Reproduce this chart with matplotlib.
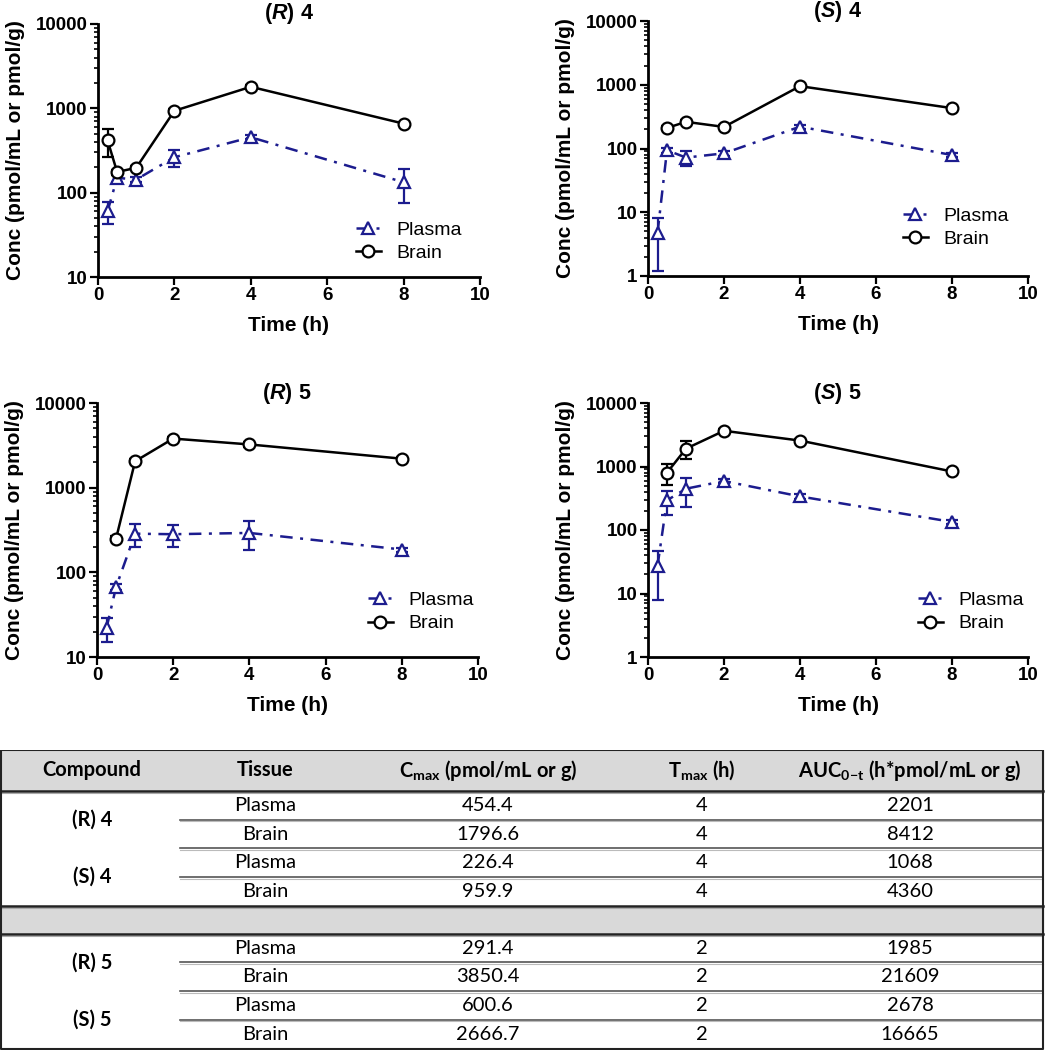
import matplotlib
matplotlib.use('Agg')
import matplotlib.pyplot as plt
from matplotlib.ticker import LogLocator, FuncFormatter, NullFormatter

plt.rcParams['font.family'] = ['Liberation Sans', 'DejaVu Sans']
plt.rcParams['mathtext.fontset'] = 'custom'
plt.rcParams['mathtext.rm'] = 'Liberation Sans'
plt.rcParams['mathtext.bf'] = 'Liberation Sans:bold'
plt.rcParams['mathtext.bfit'] = 'Liberation Sans:bold:italic'
plt.rcParams['mathtext.sf'] = 'Lato:bold'

# ---- concentration-time data ----
t_all = [0.25, 0.5, 1, 2, 4, 8]
t_late = [0.5, 1, 2, 4, 8]

r4_plasma = [60, 150, 143, 263, 454, 133]
r4_plasma_err = [17, 15, 10, 60, 25, 57]
r4_brain = [418, 176, 197, 935, 1800, 659]
r4_brain_err = [150, 12, 12, 40, 80, 30]

s4_plasma = [4.7, 94, 72, 84, 220, 79]
s4_plasma_err = [3.5, 8, 18, 8, 15, 6]
s4_brain = [210, 262, 218, 950, 430]
s4_brain_err = [12, 15, 12, 50, 25]

r5_plasma = [22, 67, 286, 282, 292, 186]
r5_plasma_err = [7, 5, 85, 85, 110, 10]
r5_brain = [250, 2050, 3800, 3240, 2200]
r5_brain_err = [15, 120, 200, 180, 120]

s5_plasma = [27, 293, 447, 590, 338, 134]
s5_plasma_err = [19, 120, 215, 40, 25, 10]
s5_brain = [800, 1910, 3650, 2560, 835]
s5_brain_err = [280, 600, 200, 150, 50]

titles = [r'$\mathbf{(}\mathbfit{R}\mathbf{)\ 4}$', r'$\mathbf{(}\mathbfit{S}\mathbf{)\ 4}$',
          r'$\mathbf{(}\mathbfit{R}\mathbf{)\ 5}$', r'$\mathbf{(}\mathbfit{S}\mathbf{)\ 5}$']

# ---- table data ----
col_headers = ['Compound', 'Tissue', r'C$_{\mathsf{max}}$ (pmol/mL or g)',
               r'T$_{\mathsf{max}}$ (h)', r'AUC$_{\mathsf{0\!-\!t}}$ (h*pmol/mL or g)']
compounds = ['(R) 4', '(S) 4', '(R) 5', '(S) 5']
tissues = ['Plasma', 'Brain'] * 4
cmax = ['454.4', '1796.6', '226.4', '959.9', '291.4', '3850.4', '600.6', '2666.7']
tmax = ['4', '4', '4', '4', '2', '2', '2', '2']
auc = ['2201', '8412', '1068', '4360', '1985', '21609', '2678', '16665']

plasma_color = '#1c1c8e'
W, H = 1045, 1050
fig = plt.figure(figsize=(W / 100, H / 100), dpi=100)

# axes boxes in pixels: left, top, right, bottom
boxes = [(98, 24, 480, 277), (648, 21, 1028, 276),
         (97, 403, 478, 657), (648, 403, 1028, 657)]
title_y = [14, 12, 393, 393]
ylims = [(10, 10000), (1, 10000), (10, 10000), (1, 10000)]
leg_pos = [(0.675, 0.14), (0.67, 0.19), (0.71, 0.178), (0.71, 0.178)]
series = [
    (t_all, r4_plasma, r4_plasma_err, t_all, r4_brain, r4_brain_err),
    (t_all, s4_plasma, s4_plasma_err, t_late, s4_brain, s4_brain_err),
    (t_all, r5_plasma, r5_plasma_err, t_late, r5_brain, r5_brain_err),
    (t_all, s5_plasma, s5_plasma_err, t_late, s5_brain, s5_brain_err),
]

for i, (l, t, r, b) in enumerate(boxes):
    ax = fig.add_axes([l / W, 1 - b / H, (r - l) / W, (b - t) / H])
    tp, yp, ep, tb, yb, eb = series[i]

    ax.errorbar(tp, yp, yerr=ep, fmt='none', ecolor=plasma_color, elinewidth=1.6,
                capsize=4, capthick=1.6, zorder=2)
    ax.errorbar(tb, yb, yerr=eb, fmt='none', ecolor='black', elinewidth=1.6,
                capsize=4, capthick=1.6, zorder=2)
    ax.plot(tp, yp, linestyle=(0, (5, 3, 1.2, 3)), color=plasma_color, lw=1.8, marker='^',
            markersize=9, markerfacecolor='white', markeredgewidth=1.6,
            label='Plasma', zorder=3)
    ax.plot(tb, yb, linestyle='-', color='black', lw=1.8, marker='o',
            markersize=8.5, markerfacecolor='white', markeredgewidth=1.6,
            label='Brain', zorder=4)

    ax.set_yscale('log')
    ax.set_ylim(*ylims[i])
    ax.set_xlim(0, 10)
    ax.set_xticks([0, 2, 4, 6, 8, 10])
    ax.yaxis.set_major_locator(LogLocator(base=10, numticks=10))
    ax.yaxis.set_minor_locator(LogLocator(base=10, subs=range(2, 10), numticks=20))
    ax.yaxis.set_major_formatter(FuncFormatter(lambda v, p: '{:g}'.format(v)))
    ax.yaxis.set_minor_formatter(NullFormatter())

    for s in ['top', 'right']:
        ax.spines[s].set_visible(False)
    for s in ['left', 'bottom']:
        ax.spines[s].set_linewidth(2)
    ax.tick_params(which='major', direction='out', length=5.5, width=1.6,
                   labelsize=13.5, pad=2)
    ax.tick_params(which='minor', direction='out', length=3, width=1.2)
    for lab in ax.get_xticklabels() + ax.get_yticklabels():
        lab.set_fontweight('bold')

    ax.set_xlabel('Time (h)', fontsize=15, fontweight='bold', labelpad=8)
    ax.set_ylabel('Conc (pmol/mL or pmol/g)', fontsize=15, fontweight='bold', labelpad=8)
    fig.text((l + r) / 2 / W, 1 - title_y[i] / H, titles[i], fontsize=15.5,
             ha='center', va='center')

    ax.legend(loc='center left', bbox_to_anchor=leg_pos[i], frameon=False,
              fontsize=14, handlelength=1.3, handletextpad=0.8, labelspacing=0.3,
              borderaxespad=0, borderpad=0)

# ---- table ----
tab = fig.add_axes([0, 0, 1, 300 / H])
tab.set_xlim(0, W)
tab.set_ylim(H, 750)
tab.axis('off')

x0, x1 = 1, 1043
top, head_bot = 750, 791
row_h = 28.7
gray_top = head_bot + 4 * row_h
gray_bot = gray_top + 28
col_x = [92, 265, 488, 702, 910]
grey = '#d9d9d9'

tab.fill_between([x0, x1], top, head_bot, color=grey, zorder=0)
tab.fill_between([x0, x1], gray_top, gray_bot, color=grey, zorder=0)

row_tops = [head_bot + k * row_h for k in range(4)] + [gray_bot + k * row_h for k in range(4)]
bottom = row_tops[-1] + row_h

tf = ['Lato', 'DejaVu Sans']
fs = 14.5
for j, h in enumerate(col_headers):
    tab.text(col_x[j], (top + head_bot) / 2, h, ha='center', va='center',
             fontsize=fs, fontweight='bold', family=tf)

for k, y in enumerate(row_tops):
    yc = y + row_h / 2
    tab.text(col_x[1], yc, tissues[k], ha='center', va='center', fontsize=fs, family=tf)
    tab.text(col_x[2], yc, cmax[k], ha='center', va='center', fontsize=fs, family=tf)
    tab.text(col_x[3], yc, tmax[k], ha='center', va='center', fontsize=fs, family=tf)
    tab.text(col_x[4], yc, auc[k], ha='center', va='center', fontsize=fs, family=tf)
    if k % 4 != 3:
        tab.plot([180, x1], [y + row_h, y + row_h], color='#555555', lw=1.2)
        tab.plot([180, x1], [y + row_h + 1.5, y + row_h + 1.5], color='#bbbbbb', lw=0.8)

for c, name in enumerate(compounds):
    yc = row_tops[2 * c] + row_h
    tab.text(col_x[0], yc, name, ha='center', va='center', fontsize=fs,
             fontweight='bold', family=tf)

for y in [head_bot, gray_top, gray_bot]:
    tab.plot([x0, x1], [y, y], color='#222222', lw=1.8)
    tab.plot([x0, x1], [y + 2, y + 2], color='#aaaaaa', lw=0.8)

tab.plot([x0, x1, x1, x0, x0], [top, top, bottom, bottom, top], color='#222222', lw=1.5)

fig.savefig('out.png', dpi=100)
